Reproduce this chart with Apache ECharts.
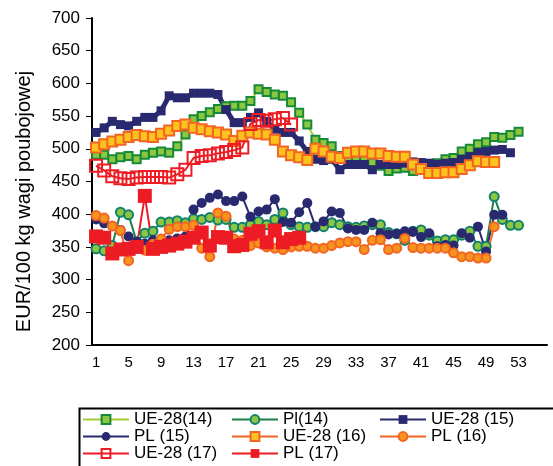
<!DOCTYPE html>
<html>
<head>
<meta charset="utf-8">
<script src="https://cdn.jsdelivr.net/npm/echarts@6/dist/echarts.min.js"></script>
<style>
html, body { margin: 0; padding: 0; background: #fff; }
#chart { width: 553px; height: 466px; }
</style>
</head>
<body>
<div id="chart"></div>
<script>
// tygodnie 1..56 (oś X)
const weeks = ['1','2','3','4','5','6','7','8','9','10','11','12','13','14','15','16','17','18','19','20',
    '21','22','23','24','25','26','27','28','29','30','31','32','33','34','35','36','37','38','39','40',
    '41','42','43','44','45','46','47','48','49','50','51','52','53','54','55','56']
const yTicks = [200, 250, 300, 350, 400, 450, 500, 550, 600, 650, 700]

// ceny EUR/100 kg wagi poubojowej
const ue14 = [491,491,484,487,489,484,491,494,496,494,504,522,545,550,556,561,565,566,566,573,
    591,587,583,581,571,555,537,514,509,504,489,487,485,483,479,474,466,470,471,466,
    470,474,478,484,486,496,500,507,510,518,517,521,526]
const pl14 = [347,344,352,403,399,358,371,374,388,388,390,387,393,392,395,391,392,380,380,384,
    389,384,392,402,384,381,380,381,381,387,384,381,380,382,384,384,372,370,360,374,
    376,368,359,361,361,368,374,351,351,427,392,383,383]
const ue15 = [525,532,542,537,535,542,548,548,558,581,578,578,585,585,585,583,560,540,540,548,
    555,542,530,525,525,512,496,484,482,484,468,476,476,476,468,476,476,476,478,480,
    479,478,476,478,479,484,488,494,496,498,499,494]
const pl15 = [392,386,382,376,366,358,355,360,358,360,363,366,407,417,425,430,420,420,427,396,
    404,407,423,388,387,403,417,381,389,404,402,378,376,376,387,371,369,370,374,373,
    365,371,351,353,352,371,364,381,343,399,399]
const ue16 = [502,507,511,514,518,521,519,518,523,528,535,537,532,530,527,525,522,512,520,525,
    523,522,514,496,490,487,483,500,496,488,486,494,496,496,493,493,489,488,488,476,
    469,463,463,464,464,469,475,481,480,480]
const pl16 = [398,394,382,375,329,352,345,354,362,377,381,381,383,348,335,402,397,362,360,352,
    356,350,348,346,350,351,351,348,348,352,356,358,358,346,360,361,346,348,363,349,
    348,348,348,348,341,335,335,333,333,381]
const ue17 = [474,467,458,455,454,456,457,457,457,456,461,468,486,489,490,493,495,498,502,538,
    544,543,545,547,537]
const pl17 = [366,364,340,346,347,350,428,347,350,352,355,358,364,372,352,365,364,351,353,370,
    374,357,375,357,362,364]

const font = 'Arial, "Liberation Sans", sans-serif'

function lineSeries(name, data, symbol, size, lineColor, lineWidth, fill, border, borderWidth) {
    return {
        name: name,
        type: 'line',
        data: data,
        symbol: symbol,
        symbolSize: size,
        showSymbol: true,
        showAllSymbol: true,
        lineStyle: { color: lineColor, width: lineWidth },
        itemStyle: { color: fill, borderColor: border, borderWidth: borderWidth },
        emphasis: { disabled: true }
    }
}

const chart = echarts.init(document.getElementById('chart'))
const legendText = { fontSize: 17, fontFamily: font, color: '#000', lineHeight: 16.5 }
function legendCol(left, names) {
    return {
        orient: 'vertical', left: left, top: 411,
        itemWidth: 46, itemHeight: 11, itemGap: 0,
        padding: 0,
        data: names,
        textStyle: legendText
    }
}

const option = {
    animation: false,
    grid: { left: 92, right: 6, top: 18, bottom: 121 },
    legend: [
        legendCol(82, ['UE-28(14)', 'PL (15)', 'UE-28 (17)']),
        legendCol(231, ['Pl(14)', 'UE-28 (16)', 'PL (17)']),
        legendCol(379, ['UE-28 (15)', 'PL (16)'])
    ],
    graphic: [{
        type: 'rect', left: 77, top: 406,
        shape: { width: 500, height: 59 },
        style: { fill: 'none', stroke: '#000', lineWidth: 2 }
    }],
    xAxis: {
        type: 'category',
        data: weeks,
        boundaryGap: true,
        axisLine: { lineStyle: { color: '#000', width: 2 } },
        axisTick: { interval: 0, length: 4, lineStyle: { color: '#000' } },
        axisLabel: { interval: 3, color: '#000', fontSize: 15, fontFamily: font, margin: 10 },
        splitLine: { show: false }
    },
    yAxis: {
        type: 'value',
        min: yTicks[0],
        max: yTicks[yTicks.length - 1],
        interval: 50,
        name: 'EUR/100 kg wagi poubojowej',
        nameLocation: 'middle',
        nameRotate: 90,
        nameGap: 58,
        nameTextStyle: { color: '#000', fontSize: 20, fontFamily: font, padding: [0, 40, 0, 0] },
        axisLine: { show: true, lineStyle: { color: '#000', width: 2 } },
        axisTick: { show: true, length: 6, lineStyle: { color: '#000' } },
        axisLabel: { color: '#000', fontSize: 17, fontFamily: font, margin: 12 },
        splitLine: { show: false }
    },
    series: [
        lineSeries('UE-28(14)', ue14, 'rect', 8, '#a6ce39', 2, '#8dc63f', '#178a3a', 2),
        lineSeries('Pl(14)', pl14, 'circle', 9, '#1b7f4a', 2, '#8dc63f', '#12806e', 2),
        lineSeries('UE-28 (15)', ue15, 'rect', 9, '#29296f', 5, '#29296f', '#29296f', 0),
        lineSeries('PL (15)', pl15, 'circle', 10, '#29296f', 2, '#29296f', '#29296f', 0),
        lineSeries('UE-28 (16)', ue16, 'rect', 10, '#f26522', 2, '#fcc31e', '#f26522', 2),
        lineSeries('PL (16)', pl16, 'circle', 9, '#f26522', 2, '#f7941d', '#f26522', 2),
        lineSeries('UE-28 (17)', ue17, 'rect', 12, '#ed1c24', 2, 'rgba(255,255,255,0)', '#ed1c24', 2),
        lineSeries('PL (17)', pl17, 'rect', 14, '#ed1c24', 2, '#ed1c24', '#ed1c24', 0)
    ]
}
chart.setOption(option)
</script>
</body>
</html>
